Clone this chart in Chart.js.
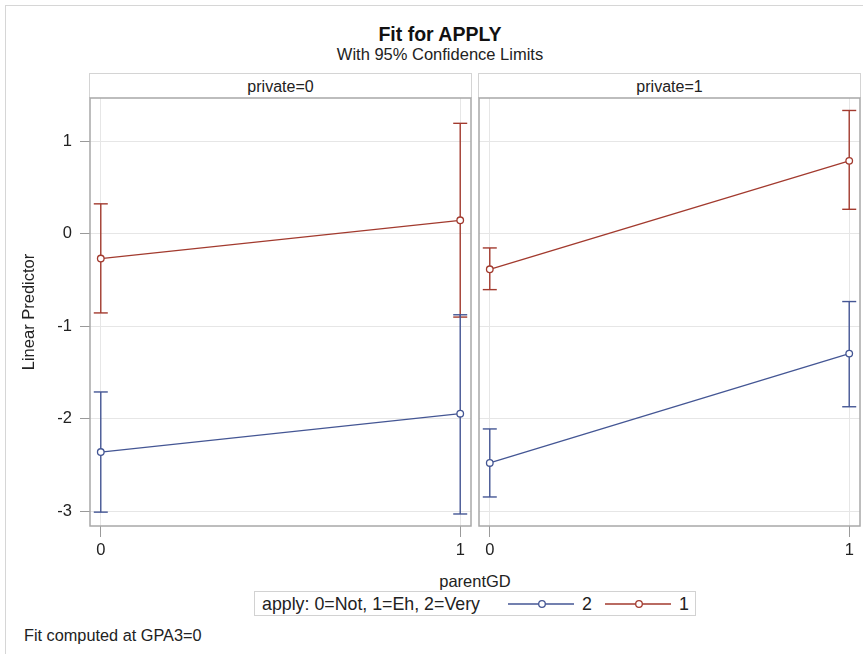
<!DOCTYPE html>
<html>
<head>
<meta charset="utf-8">
<script src="https://cdn.jsdelivr.net/npm/chart.js@4"></script>
<style>
  html, body { margin: 0; padding: 0; background: #fff; }
  body { width: 863px; height: 654px; position: relative; overflow: hidden;
         font-family: "Liberation Sans", Arial, sans-serif; color: #222; }
  .abs { position: absolute; }
  #frame { left: 5px; top: 5px; width: 900px; height: 700px; border: 1px solid #d6d6d6; }
  #title { left: 0; width: 880px; top: 23px; text-align: center; font-weight: bold; font-size: 19.5px; color: #111; }
  #subtitle { left: 0; width: 880px; top: 45px; text-align: center; font-size: 16.5px; }
  .hdr { top: 73px; height: 24px; border: 1px solid #d4d4d4; border-bottom: none; box-sizing: content-box;
         text-align: center; line-height: 25px; font-size: 16px; }
  #xtitle { left: 90px; width: 770px; top: 572px; text-align: center; font-size: 16.5px; }
  #legend { left: 254px; top: 591px; width: 440px; height: 23px; border: 1px solid #d2d2d2; font-size: 17.8px; }
  #legend span { position: absolute; top: 2px; }
  #legend svg { position: absolute; top: 0; }
  #foot { left: 24px; top: 626px; font-size: 16.3px; }
</style>
</head>
<body>
<div id="frame" class="abs"></div>
<div id="title" class="abs">Fit for APPLY</div>
<div id="subtitle" class="abs">With 95% Confidence Limits</div>
<div class="abs hdr" style="left:89px;width:381px;">private=0</div>
<div class="abs hdr" style="left:478px;width:381px;">private=1</div>
<canvas id="c0" class="abs" style="left:0;top:90px;" width="478" height="475"></canvas>
<canvas id="c1" class="abs" style="left:472px;top:90px;" width="391" height="475"></canvas>
<div id="xtitle" class="abs">parentGD</div>
<div id="legend" class="abs">
  <span style="left:7px;">apply: 0=Not, 1=Eh, 2=Very</span>
  <svg style="left:253px;" width="66" height="24"><line x1="0" y1="12" x2="66" y2="12" stroke="#445694" stroke-width="1.3"/><circle cx="34" cy="12" r="3.3" fill="#fff" stroke="#445694" stroke-width="1.3"/></svg>
  <span style="left:327px;">2</span>
  <svg style="left:350px;" width="66" height="24"><line x1="0" y1="12" x2="66" y2="12" stroke="#A23A2E" stroke-width="1.3"/><circle cx="34" cy="12" r="3.3" fill="#fff" stroke="#A23A2E" stroke-width="1.3"/></svg>
  <span style="left:424px;">1</span>
</div>
<div id="foot" class="abs">Fit computed at GPA3=0</div>

<script>
// parentGD levels and axis ticks
const parentGD = [0, 1];
const xTicks = [0, 1];
const yTicks = [-3, -2, -1, 0, 1];

// private=0 panel: apply=2 (Very) and apply=1 (Eh), estimates with 95% limits
const p0Very = [-2.36, -1.945];
const p0VeryLo = [-3.01, -3.03];
const p0VeryHi = [-1.71, -0.875];
const p0Eh = [-0.267, 0.147];
const p0EhLo = [-0.855, -0.90];
const p0EhHi = [0.325, 1.196];

// private=1 panel
const p1Very = [-2.478, -1.295];
const p1VeryLo = [-2.846, -1.87];
const p1VeryHi = [-2.11, -0.732];
const p1Eh = [-0.383, 0.79];
const p1EhLo = [-0.603, 0.266];
const p1EhHi = [-0.152, 1.335];

const BLUE = "#445694";
const RED = "#A23A2E";
const FONT = "'Liberation Sans', Arial, sans-serif";

function fitLine(vals, color) {
    return {
        data: parentGD.map((x, i) => ({ x: x, y: vals[i] })),
        borderColor: color,
        borderWidth: 1.3,
        pointRadius: 3.3,
        pointBorderWidth: 1.3,
        pointBackgroundColor: "#fff",
        pointBorderColor: color,
        order: 0,
    };
}

// error bar = two points with flat "line" markers as caps, joined by a line
function errBars(lo, hi, color) {
    return parentGD.map((x, i) => ({
        data: [{ x: x, y: lo[i] }, { x: x, y: hi[i] }],
        borderColor: color,
        borderWidth: 1.4,
        pointStyle: "line",
        pointRadius: 7,
        pointBorderWidth: 1.4,
        pointBorderColor: color,
        order: 1,
    }));
}

// gray box round the plot area
const framePlugin = {
    id: "frame",
    afterDraw(chart) {
        const a = chart.chartArea;
        const ctx = chart.ctx;
        ctx.save();
        ctx.strokeStyle = "#a8a8a8";
        ctx.lineWidth = 1.5;
        ctx.strokeRect(a.left, a.top, a.right - a.left, a.bottom - a.top);
        ctx.restore();
    },
};

function makePanel(id, datasets, showY, yWidth, padRight) {
    return new Chart(document.getElementById(id), {
        type: "line",
        data: { datasets: datasets },
        options: {
            responsive: false,
            animation: false,
            // no extra room for point markers: the plot box must sit exactly on the frame
            layout: { autoPadding: false, padding: { top: 8, right: padRight, left: 0, bottom: 0 } },
            plugins: { legend: { display: false }, tooltip: { enabled: false } },
            scales: {
                x: {
                    type: "linear",
                    min: -0.03,
                    max: 1.03,
                    afterBuildTicks: (s) => { s.ticks = xTicks.map((v) => ({ value: v })); },
                    afterFit: (s) => { s.height = 39; s.paddingLeft = 0; s.paddingRight = 0; },
                    grid: { color: "#e6e6e6", tickColor: "#9a9a9a", tickLength: 11 },
                    border: { display: false },
                    ticks: { color: "#222", padding: 4, font: { family: FONT, size: 16.5 } },
                },
                y: {
                    min: -3.16,
                    max: 1.47,
                    afterBuildTicks: (s) => { s.ticks = yTicks.map((v) => ({ value: v })); },
                    afterFit: (s) => { s.width = yWidth; s.paddingTop = 0; s.paddingBottom = 0; },
                    grid: { color: "#e6e6e6", tickColor: "#9a9a9a", tickLength: 10, drawTicks: showY },
                    border: { display: false },
                    ticks: { display: showY, color: "#222", padding: 8, font: { family: FONT, size: 16.5 } },
                    title: {
                        display: showY,
                        text: "Linear Predictor",
                        color: "#222",
                        padding: { top: 20, bottom: 0 },
                        font: { family: FONT, size: 16.5 },
                    },
                },
            },
        },
        plugins: [framePlugin],
    });
}

makePanel("c0", [
    fitLine(p0Very, BLUE),
    fitLine(p0Eh, RED),
    ...errBars(p0VeryLo, p0VeryHi, BLUE),
    ...errBars(p0EhLo, p0EhHi, RED),
], true, 90, 7);

makePanel("c1", [
    fitLine(p1Very, BLUE),
    fitLine(p1Eh, RED),
    ...errBars(p1VeryLo, p1VeryHi, BLUE),
    ...errBars(p1EhLo, p1EhHi, RED),
], false, 7, 3);
</script>
</body>
</html>
